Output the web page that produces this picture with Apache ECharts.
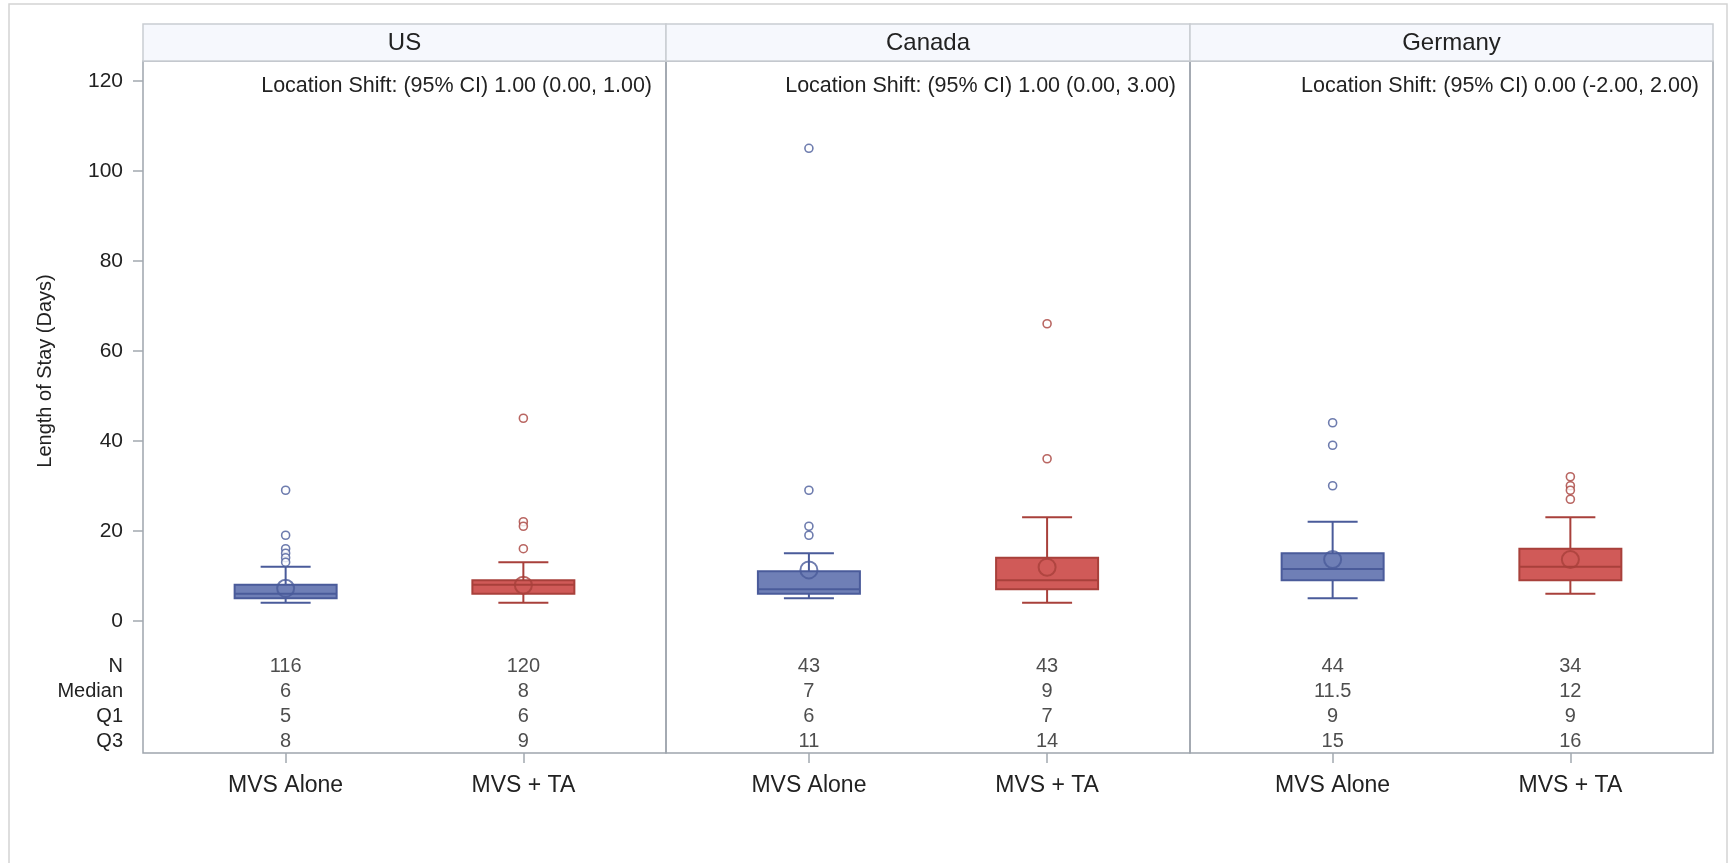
<!DOCTYPE html>
<html><head><meta charset="utf-8">
<script src="https://cdn.jsdelivr.net/npm/echarts@6/dist/echarts.min.js"></script>
<style>html,body{margin:0;padding:0;background:#fff}#c{width:1730px;height:863px}</style>
</head><body><div id="c"></div>
<script>
// ---------- data ----------
const panels = ['US', 'Canada', 'Germany'];
const categories = ['MVS Alone', 'MVS + TA'];
const yTicks = [0, 20, 40, 60, 80, 100, 120];
const locationShift = [
  'Location Shift: (95% CI) 1.00 (0.00, 1.00)',
  'Location Shift: (95% CI) 1.00 (0.00, 3.00)',
  'Location Shift: (95% CI) 0.00 (-2.00, 2.00)'
];
// [lower whisker, Q1, median, Q3, upper whisker] per category
const usBox = [[4, 5, 6, 8, 12], [4, 6, 8, 9, 13]];
const canadaBox = [[5, 6, 7, 11, 15], [4, 7, 9, 14, 23]];
const germanyBox = [[5, 9, 11.5, 15, 22], [6, 9, 12, 16, 23]];
const usMean = [7.2, 7.9];
const canadaMean = [11.3, 11.9];
const germanyMean = [13.6, 13.6];
const usOutliers = [[29, 19, 16, 15, 14, 13], [45, 22, 21, 16]];
const canadaOutliers = [[105, 29, 21, 19], [66, 36]];
const germanyOutliers = [[44, 39, 30], [32, 30, 29, 27]];
const usN = [116, 120];
const canadaN = [43, 43];
const germanyN = [44, 34];
const statLabels = ['N', 'Median', 'Q1', 'Q3'];

// ---------- styling / layout ----------
const FONT = 'Liberation Sans, Arial, sans-serif';
const fills = ['#6f7fb6', '#d05a58'];
const strokes = ['#4a5b9a', '#a8403b'];
const gridLeft = [143, 666, 1190];
const gridW = [523, 524, 523];
const gridTop = 61, gridH = 692;
const yMin = -29.4, yMax = 124.4;
const statRowPx = [666, 691, 716, 741];
const pxPerUnit = 4.5, zeroPx = 620.7;
const statRowY = statRowPx.map(py => (zeroPx - py) / pxPerUnit);

const boxes = [usBox, canadaBox, germanyBox];
const means = [usMean, canadaMean, germanyMean];
const outliers = [usOutliers, canadaOutliers, germanyOutliers];
const ns = [usN, canadaN, germanyN];

const grids = [], xAxes = [], yAxes = [], series = [], graphics = [];

panels.forEach((p, g) => {
  grids.push({ left: gridLeft[g], top: gridTop, width: gridW[g], height: gridH,
    show: true, borderColor: '#9ea5ad', borderWidth: 1.5, backgroundColor: 'transparent' });
  xAxes.push({ type: 'value', gridIndex: g, min: -0.6, max: 1.6,
    axisLine: { show: false, onZero: false }, splitLine: { show: false },
    axisTick: { show: true, length: 10, customValues: [0, 1], lineStyle: { color: '#a3a9b0', width: 1.5 } },
    axisLabel: { customValues: [0, 1], formatter: v => categories[Math.round(v)] || '',
      margin: 21, fontSize: 23, color: '#222', fontFamily: FONT } });
  yAxes.push({ type: 'value', gridIndex: g, min: yMin, max: yMax,
    axisLine: { show: false, onZero: false }, splitLine: { show: false },
    axisTick: { show: g === 0, length: 10, customValues: yTicks, lineStyle: { color: '#a3a9b0', width: 1.5 } },
    axisLabel: { show: g === 0, customValues: yTicks, margin: 20, fontSize: 21, color: '#222', fontFamily: FONT } });

  // boxes via custom series
  series.push({
    type: 'custom', xAxisIndex: g, yAxisIndex: g,
    data: boxes[g].map((b, i) => [i].concat(b)),
    renderItem: (params, api) => {
      const i = api.value(0);
      const x = api.coord([i, 0])[0];
      const yLo = api.coord([i, api.value(1)])[1];
      const yQ1 = api.coord([i, api.value(2)])[1];
      const yMed = api.coord([i, api.value(3)])[1];
      const yQ3 = api.coord([i, api.value(4)])[1];
      const yHi = api.coord([i, api.value(5)])[1];
      const bw = 102, cw = 50;
      const st = { stroke: strokes[i], lineWidth: 2 };
      return { type: 'group', children: [
        { type: 'line', shape: { x1: x, y1: yHi, x2: x, y2: yQ3 }, style: st },
        { type: 'line', shape: { x1: x, y1: yQ1, x2: x, y2: yLo }, style: st },
        { type: 'line', shape: { x1: x - cw / 2, y1: yHi, x2: x + cw / 2, y2: yHi }, style: st },
        { type: 'line', shape: { x1: x - cw / 2, y1: yLo, x2: x + cw / 2, y2: yLo }, style: st },
        { type: 'rect', shape: { x: x - bw / 2, y: yQ3, width: bw, height: yQ1 - yQ3 },
          style: { fill: fills[i], stroke: strokes[i], lineWidth: 2 } },
        { type: 'line', shape: { x1: x - bw / 2, y1: yMed, x2: x + bw / 2, y2: yMed }, style: st }
      ] };
    }
  });
  // means and outliers
  [0, 1].forEach(i => {
    series.push({ type: 'scatter', xAxisIndex: g, yAxisIndex: g, symbol: 'circle', symbolSize: 17,
      itemStyle: { color: 'rgba(0,0,0,0)', borderColor: strokes[i], borderWidth: 2 },
      data: [[i, means[g][i]]], z: 5 });
    series.push({ type: 'scatter', xAxisIndex: g, yAxisIndex: g, symbol: 'circle', symbolSize: 8,
      itemStyle: { color: '#fff', borderColor: strokes[i], borderWidth: 1.6 },
      data: outliers[g][i].map(v => [i, v]), z: 5 });
  });
  // stats table
  const statVals = [ns[g], boxes[g].map(b => b[2]), boxes[g].map(b => b[1]), boxes[g].map(b => b[3])];
  const statData = [];
  statVals.forEach((row, r) => row.forEach((v, i) => statData.push({ value: [i, statRowY[r]], txt: String(v) })));
  series.push({ type: 'scatter', xAxisIndex: g, yAxisIndex: g, symbolSize: 0, data: statData,
    label: { show: true, position: 'inside', formatter: p => p.data.txt, fontSize: 20, color: '#222', fontFamily: FONT } });

  // header strip
  graphics.push({ type: 'rect', shape: { x: gridLeft[g], y: 24, width: gridW[g], height: gridTop - 24 },
    style: { fill: '#f6f8fd', stroke: '#c9cdd2', lineWidth: 1.5 } });
  graphics.push({ type: 'text', x: gridLeft[g] + gridW[g] / 2, y: 43,
    style: { text: p, font: '24px ' + FONT, fill: '#222', align: 'center', verticalAlign: 'middle' } });
  graphics.push({ type: 'text', x: gridLeft[g] + gridW[g] - 14, y: 86,
    style: { text: locationShift[g], font: '21.5px ' + FONT, fill: '#222', align: 'right', verticalAlign: 'middle' } });
});

// stat row labels
statLabels.forEach((t, r) => {
  graphics.push({ type: 'text', x: 123, y: statRowPx[r],
    style: { text: t, font: '20px ' + FONT, fill: '#222', align: 'right', verticalAlign: 'middle' } });
});
// y axis title
graphics.push({ type: 'text', x: 45, y: 371, rotation: Math.PI / 2,
  style: { text: 'Length of Stay (Days)', font: '20px ' + FONT, fill: '#222', align: 'center', verticalAlign: 'middle' } });
// outer frame
graphics.push({ type: 'rect', shape: { x: 9, y: 4, width: 1718, height: 900 },
  style: { fill: 'none', stroke: '#d4d4d4', lineWidth: 1.5 }, z: -1 });

const chart = echarts.init(document.getElementById('c'));
chart.setOption({
  animation: false,
  backgroundColor: '#fff',
  grid: grids, xAxis: xAxes, yAxis: yAxes, series: series,
  graphic: graphics
});
</script></body></html>
